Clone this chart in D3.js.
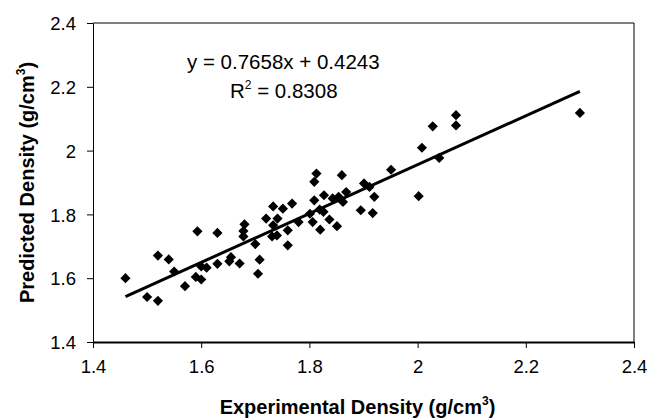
<!DOCTYPE html>
<html>
<head>
<meta charset="utf-8">
<script src="https://cdn.jsdelivr.net/npm/d3@7"></script>
<style>
  body { margin: 0; background: #fff; }
  text { font-family: Arial, "Liberation Sans", sans-serif; fill: #000; }
</style>
</head>
<body>
<div id="chart"></div>
<script>
// experimental vs predicted density (g/cm3)
const experimental = [
    1.46, 1.50, 1.52, 1.52, 1.54, 1.55, 1.57, 1.59, 1.60, 1.60,
    1.61, 1.593, 1.63, 1.63, 1.652, 1.655, 1.671, 1.678, 1.678, 1.68,
    1.70, 1.705, 1.708, 1.72, 1.733, 1.733, 1.731, 1.741, 1.74, 1.751,
    1.76, 1.76, 1.768, 1.78, 1.801, 1.806, 1.809, 1.813, 1.809, 1.819,
    1.82, 1.826, 1.827, 1.837, 1.851, 1.843, 1.854, 1.86, 1.862, 1.868,
    1.895, 1.901, 1.911, 1.917, 1.92, 1.951, 2.002, 2.008, 2.028, 2.04,
    2.071, 2.071, 2.30
];
const predicted = [
    1.600, 1.541, 1.529, 1.671, 1.659, 1.621, 1.575, 1.604, 1.596, 1.637,
    1.633, 1.747, 1.645, 1.742, 1.653, 1.666, 1.646, 1.748, 1.731, 1.769,
    1.707, 1.614, 1.658, 1.787, 1.825, 1.766, 1.731, 1.787, 1.734, 1.818,
    1.750, 1.703, 1.834, 1.776, 1.802, 1.776, 1.844, 1.928, 1.902, 1.815,
    1.752, 1.808, 1.860, 1.784, 1.763, 1.850, 1.855, 1.923, 1.839, 1.870,
    1.813, 1.897, 1.886, 1.804, 1.855, 1.940, 1.857, 2.009, 2.076, 1.977,
    2.111, 2.079, 2.118
];

// trendline shown in the chart
const slope = 0.7658;
const intercept = 0.4243;
const rSquared = 0.8308;

const axisTicks = [1.4, 1.6, 1.8, 2, 2.2, 2.4];

const margins = { top: 23, right: 15, bottom: 76, left: 93 };
const width = 649;
const height = 418;
const innerW = width - margins.left - margins.right;
const innerH = height - margins.top - margins.bottom;

const svg = d3.select('#chart')
    .append('svg')
    .attr('width', width)
    .attr('height', height);

const g = svg.append('g')
    .attr('transform', `translate(${margins.left},${margins.top})`);

// scales
const xScale = d3.scaleLinear().domain([1.4, 2.4]).range([0, innerW]);
const yScale = d3.scaleLinear().domain([1.4, 2.4]).range([innerH, 0]);

// plot box (top + right)
g.append('path')
    .attr('d', `M0,0H${innerW}V${innerH}`)
    .attr('fill', 'none')
    .attr('stroke', '#000')
    .attr('stroke-width', 1);

// axes
const fmt = d => (d === 2 ? '2' : d3.format('.1f')(d));

const xAxisGroup = g.append('g')
    .attr('transform', `translate(0,${innerH})`)
    .call(d3.axisBottom(xScale).tickValues(axisTicks).tickFormat(fmt).tickSizeInner(6).tickSizeOuter(0).tickPadding(12));

const yAxisGroup = g.append('g')
    .call(d3.axisLeft(yScale).tickValues(axisTicks).tickFormat(fmt).tickSizeInner(6).tickSizeOuter(0).tickPadding(11));

xAxisGroup.select('.domain').attr('stroke-width', 2);
[xAxisGroup, yAxisGroup].forEach(a => {
    a.selectAll('text')
        .attr('font-family', 'Arial, "Liberation Sans", sans-serif')
        .attr('font-size', 18.5)
        .attr('fill', '#000');
    a.selectAll('line').attr('stroke', '#000');
    a.selectAll('.domain').attr('stroke', '#000');
});
yAxisGroup.selectAll('text').attr('dy', '0.36em');

// trendline over the data range
const xExtent = d3.extent(experimental);
g.append('line')
    .attr('x1', xScale(xExtent[0]))
    .attr('y1', yScale(slope * xExtent[0] + intercept))
    .attr('x2', xScale(xExtent[1]))
    .attr('y2', yScale(slope * xExtent[1] + intercept))
    .attr('stroke', '#000')
    .attr('stroke-width', 3);

// diamonds
const diamond = d3.symbol().type(d3.symbolSquare).size(52);
g.selectAll('.pt')
    .data(experimental.map((x, i) => [x, predicted[i]]))
    .enter()
    .append('path')
    .attr('class', 'pt')
    .attr('d', diamond)
    .attr('transform', d => `translate(${xScale(d[0])},${yScale(d[1])}) rotate(45)`)
    .attr('fill', '#000');

// equation
const eq = svg.append('g');
eq.append('text')
    .attr('x', 187)
    .attr('y', 69)
    .attr('font-size', 20.5)
    .text(`y = ${slope}x + ${intercept}`);
const r2 = eq.append('text')
    .attr('x', 230)
    .attr('y', 98)
    .attr('font-size', 20.5);
r2.append('tspan').text('R');
r2.append('tspan').attr('font-size', 12).attr('dy', -9).text('2');
r2.append('tspan').attr('dy', 9).text(` = ${rSquared}`);

// axis titles
const xTitle = svg.append('text')
    .attr('x', margins.left + innerW / 2 - 6)
    .attr('y', 414)
    .attr('text-anchor', 'middle')
    .attr('font-size', 20)
    .attr('font-weight', 'bold');
xTitle.append('tspan').text('Experimental Density (g/cm');
xTitle.append('tspan').attr('font-size', 12).attr('dy', -9).text('3');
xTitle.append('tspan').attr('dy', 9).text(')');

const yTitle = svg.append('text')
    .attr('transform', `translate(34,${margins.top + innerH / 2}) rotate(-90)`)
    .attr('text-anchor', 'middle')
    .attr('font-size', 20)
    .attr('font-weight', 'bold');
yTitle.append('tspan').text('Predicted Density (g/cm');
yTitle.append('tspan').attr('font-size', 12).attr('dy', -9).text('3');
yTitle.append('tspan').attr('dy', 9).text(')');
</script>
</body>
</html>
